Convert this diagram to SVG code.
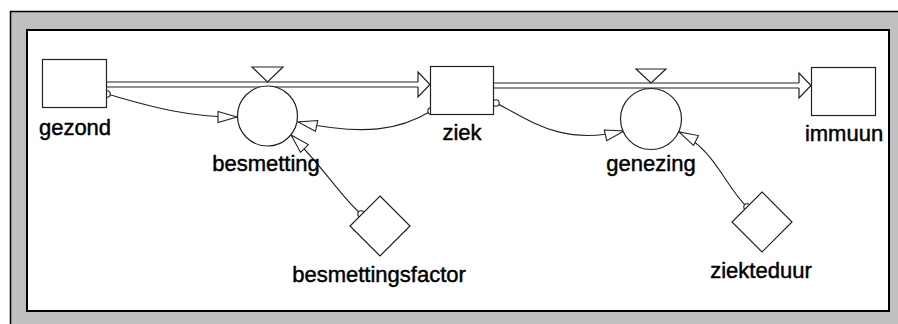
<svg xmlns="http://www.w3.org/2000/svg" width="898" height="324" viewBox="0 0 898 324">
<style>
.shape{fill:#fff;stroke:#222;stroke-width:1.2}
.lbl{font-family:"Liberation Sans",Arial,sans-serif;font-size:22px;fill:#000;stroke:#000;stroke-width:0.45;text-anchor:middle}
.link{fill:none;stroke:#222;stroke-width:1.1;marker-end:url(#ah)}
.pipeo{fill:none;stroke:#222;stroke-width:6.2}
.pipei{fill:none;stroke:#fff;stroke-width:4}
.pa{fill:#fff;stroke:#222;stroke-width:1.2}
.org{fill:#fff;stroke:#222;stroke-width:1.1}
</style>
<defs>
<marker id="ah" markerWidth="22" markerHeight="14" viewBox="0 0 22 14" refX="20" refY="7" orient="auto" markerUnits="userSpaceOnUse">
<path d="M1,1.5 L20,7 L1,12.5 Z" fill="#fff" stroke="#222" stroke-width="1.1"/>
</marker>
</defs>
<rect x="10.5" y="11.5" width="900" height="330" fill="#c0c0c0" stroke="#000" stroke-width="1.5"/>
<rect x="27" y="30" width="862" height="281" fill="#fff" stroke="#000" stroke-width="2"/>
<g id="connectors">
<line class="pipeo" x1="107" y1="84.5" x2="418" y2="84.5"/>
<line class="pipei" x1="106" y1="84.5" x2="419" y2="84.5"/>
<path class="pa" d="M418,82 L418,72 L430,84.5 L418,97 L418,87"/>
<line class="pipeo" x1="493" y1="85.5" x2="799" y2="85.5"/>
<line class="pipei" x1="492" y1="85.5" x2="800" y2="85.5"/>
<path class="pa" d="M799,83 L799,73 L811,85.5 L799,98 L799,88"/>
<path class="link" d="M107,94 C140,103 180,117 237,117"/>
<path class="link" d="M431,111 C400,130 365,136 298,122"/>
<path class="link" d="M361,214 C340,196 326,170 291,135"/>
<path class="link" d="M496,103 C530,120 560,146 624,131"/>
<path class="link" d="M747,207 C725,186 715,150 679,132"/>
<circle class="org" cx="107" cy="94" r="3.2"/>
<circle class="org" cx="431" cy="111" r="3.2"/>
<circle class="org" cx="361" cy="214" r="3.2"/>
<circle class="org" cx="496" cy="103" r="3.2"/>
<circle class="org" cx="747" cy="207" r="3.2"/>
</g>
<g id="gezond">
<rect class="shape" x="42.5" y="59.5" width="64" height="48"/>
<text class="lbl" x="75" y="135">gezond</text>
</g>
<g id="ziek">
<rect class="shape" x="430.5" y="66.5" width="63" height="48"/>
<text class="lbl" x="462" y="140">ziek</text>
</g>
<g id="immuun">
<rect class="shape" x="811.5" y="67.5" width="64" height="48"/>
<text class="lbl" x="844" y="141">immuun</text>
</g>
<g id="besmetting">
<polygon class="shape" points="252,67 283,67 267.5,82"/>
<circle class="shape" cx="267.5" cy="116" r="30"/>
<text class="lbl" x="266" y="171">besmetting</text>
</g>
<g id="genezing">
<polygon class="shape" points="636,69 666,69 651,83"/>
<circle class="shape" cx="651" cy="119" r="30.5"/>
<text class="lbl" x="651" y="171">genezing</text>
</g>
<g id="besmettingsfactor">
<polygon class="shape" points="380,196 410,226 380,256 350,226"/>
<text class="lbl" x="379" y="282">besmettingsfactor</text>
</g>
<g id="ziekteduur">
<polygon class="shape" points="762,192 792,222 762,252 732,222"/>
<text class="lbl" x="761" y="278">ziekteduur</text>
</g>
</svg>
